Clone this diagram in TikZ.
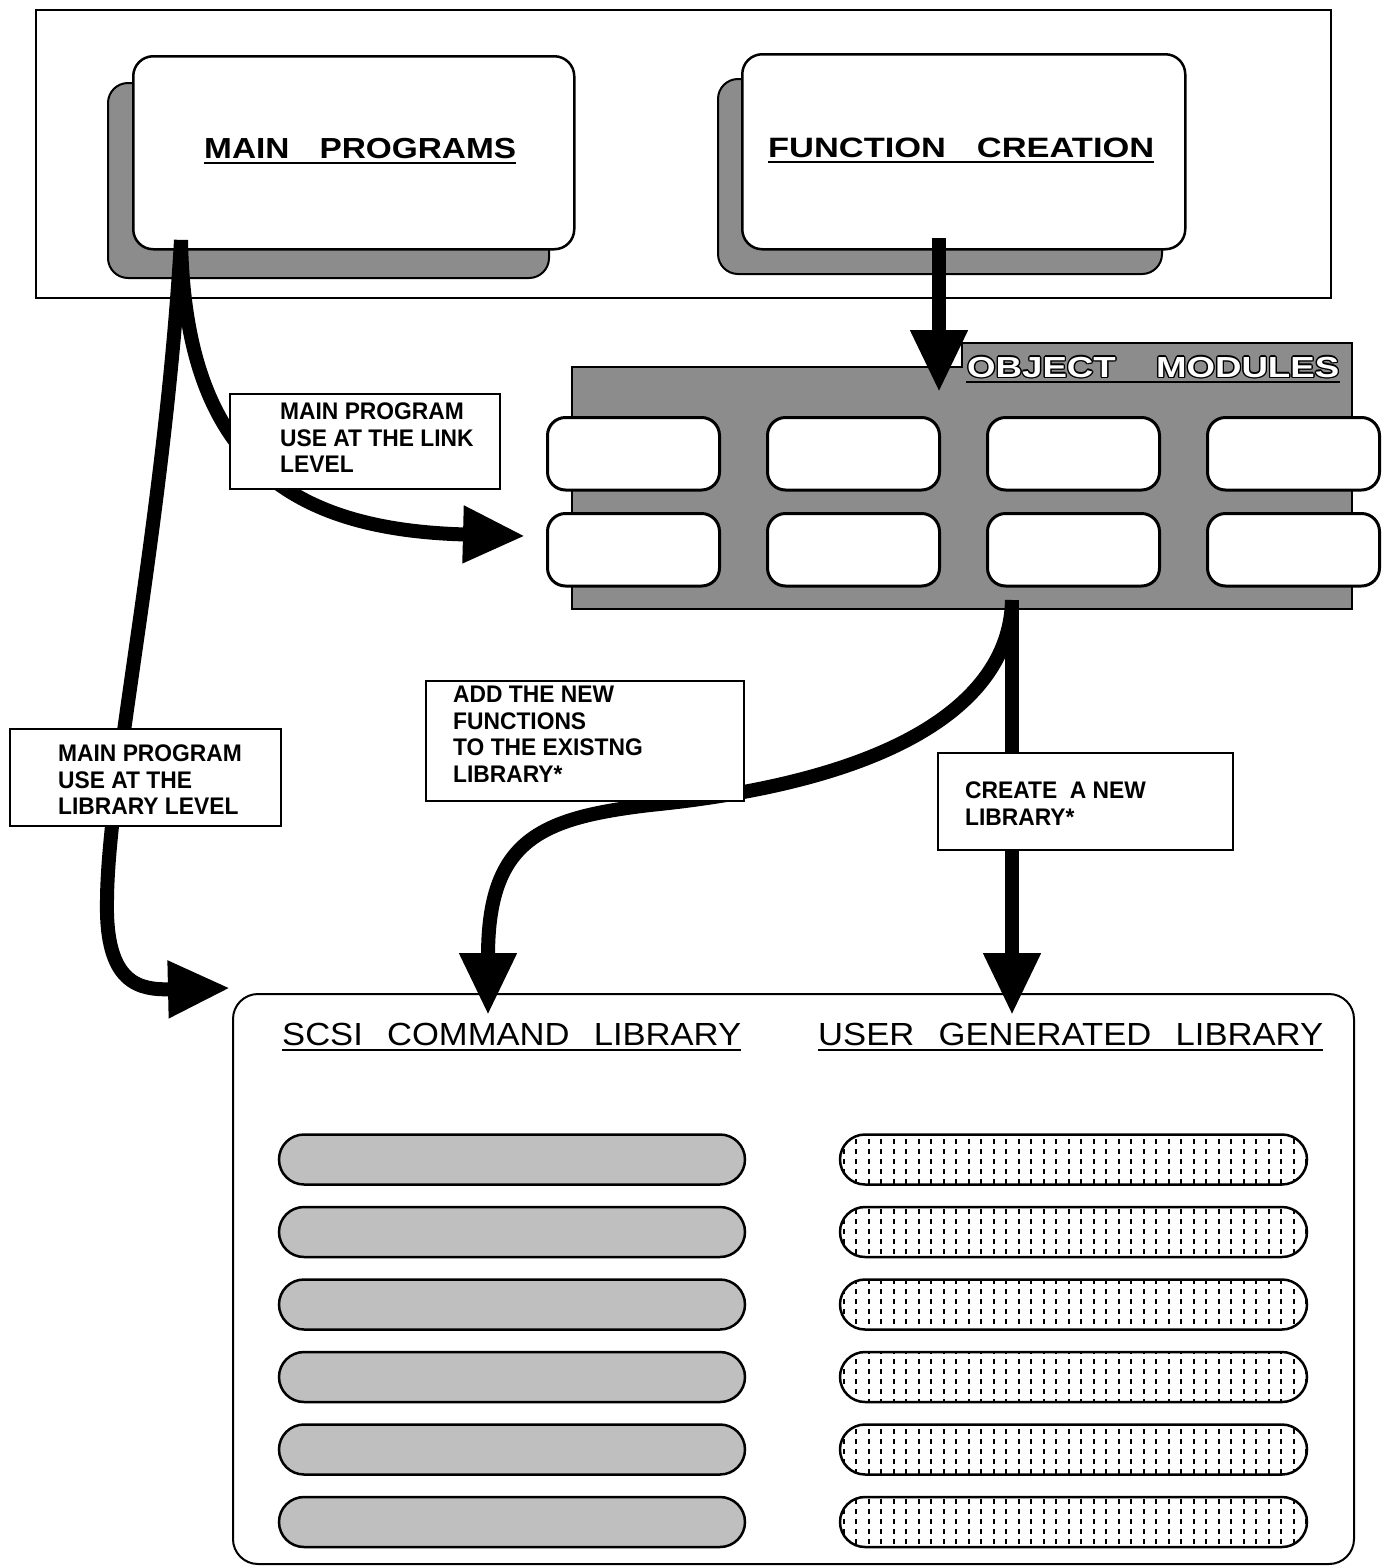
\documentclass[tikz,border=0pt]{standalone}
\usepackage{fontspec}
\usepackage{graphicx}
\setmainfont{Liberation Sans}
\newfontfamily\hfont{Liberation Sans}
\newfontfamily\lblfont[FakeStretch=0.95]{Liberation Sans}
\usetikzlibrary{arrows.meta,patterns}
\pgfdeclarepatternformonly{udots}{\pgfqpoint{-1pt}{-1pt}}{\pgfqpoint{13.5pt}{11pt}}{\pgfqpoint{12.5pt}{10pt}}{%
  \pgfpathrectangle{\pgfqpoint{5pt}{2pt}}{\pgfqpoint{2.2pt}{5pt}}\pgfusepath{fill}}
\newcommand{\hdr}[6]{% name, x, baseline, width, font, text
  \node[anchor=base west, inner sep=0] (#1) at (#2,#3) {\resizebox{#4pt}{\height}{\hfont#5#6}};
  \draw[line width=1.8pt] ([yshift=-5pt]#1.base west) -- ([yshift=-5pt]#1.base east);}
\begin{document}
\begin{tikzpicture}[x=1pt,y=-1pt,
  frame/.style={draw, line width=1.5pt, inner sep=0, anchor=north west},
  shadowbox/.style={draw, line width=2pt, fill=black!45, rounded corners=20pt, inner sep=0, anchor=north west},
  mainbox/.style={draw, line width=2.5pt, fill=white, rounded corners=20pt, inner sep=0, anchor=north west},
  modbox/.style={draw, line width=3pt, fill=white, rounded corners=18pt, minimum width=172pt, minimum height=72.5pt, inner sep=0, anchor=north west},
  lblbox/.style={draw, line width=1.6pt, fill=white, inner sep=0, anchor=north west},
  lbltext/.style={anchor=north west, inner sep=0, align=left, font=\lblfont\bfseries\fontsize{24}{26.5}\selectfont},
  bigarrow/.style={line width=14pt, -{Triangle[length=62pt,width=54pt]}},
  scsibar/.style={draw, line width=2.5pt, fill=black!25, rounded corners=25pt, minimum width=466pt, minimum height=50pt, inner sep=0},
  userbar/.style={draw, line width=2.5pt, preaction={fill=white}, pattern=udots, rounded corners=25pt, minimum width=467pt, minimum height=50pt, inner sep=0}]
\useasboundingbox (0,0) rectangle (1384,1566);
\fill[white] (0,0) rectangle (1384,1566);

% top frame with the two program boxes
\node[frame, minimum width=1295pt, minimum height=288pt] (top) at (35,9) {};
\node[shadowbox, minimum width=441pt, minimum height=195pt] (mpsh) at (107,82) {};
\node[mainbox, minimum width=441pt, minimum height=193pt] (mp) at (132,55) {};
\node[shadowbox, minimum width=444pt, minimum height=195pt] (fcsh) at (717,78) {};
\node[mainbox, minimum width=443pt, minimum height=195pt] (fc) at (741,53) {};
\hdr{mpt}{204}{158}{312}{\bfseries\fontsize{29}{29}\selectfont}{MAIN\hspace{0.9em}PROGRAMS}
\hdr{fct}{768}{157}{386}{\bfseries\fontsize{28}{28}\selectfont}{FUNCTION\hspace{0.9em}CREATION}

% object modules block
\draw[line width=2pt, fill=black!45] (572,367) -- (962,367) -- (962,343) -- (1352,343) -- (1352,609) -- (572,609) -- cycle;
\foreach \c [count=\i] in {546,766,986,1206} {
  \node[modbox] (ma\i) at (\c,416) {};
  \node[modbox] (mb\i) at (\c,512) {};
}
\foreach \dx/\dy in {-1.4/0,1.4/0,0/-1.4,0/1.4,-1/-1,1/1,-1/1,1/-1} {
  \node[anchor=base west, inner sep=0, text=black, xshift=\dx pt, yshift=\dy pt] at (967,377) {\resizebox{372pt}{\height}{\hfont\bfseries\fontsize{29}{29}\selectfont OBJECT\hspace{1.1em}MODULES}};
}
\node[anchor=base west, inner sep=0, text=white] (omt) at (967,377) {\resizebox{372pt}{\height}{\hfont\bfseries\fontsize{29}{29}\selectfont OBJECT\hspace{1.1em}MODULES}};
\draw[line width=2pt] (966,382) -- (1340,382);

% library box
\node[draw, line width=2pt, fill=white, rounded corners=25pt, minimum width=1121pt, minimum height=570pt, inner sep=0, anchor=north west] (lib) at (232,993) {};
\hdr{scsit}{282}{1045}{459}{\fontsize{32}{32}\selectfont}{SCSI\hspace{0.7em}COMMAND\hspace{0.7em}LIBRARY}
\hdr{usert}{818}{1045}{505}{\fontsize{32}{32}\selectfont}{USER\hspace{0.7em}GENERATED\hspace{0.7em}LIBRARY}
\foreach \k in {0,...,5} {
  \node[scsibar] (s\k) at (512,{1159.5+72.5*\k}) {};
  \node[userbar] (u\k) at (1073.5,{1159.5+72.5*\k}) {};
}

% connectors
\coordinate (mpout) at (181,240);
\coordinate (fcout) at (939,238);
\coordinate (omout) at (1012,600);
\coordinate (lnktip) at (525,536);
\coordinate (omtip) at (939,392);
\coordinate (libtip) at (230,988);
\coordinate (scsitip) at (488,1015);
\coordinate (usertip) at (1012,1015);
\draw[bigarrow] (fcout) -- (omtip);
\draw[bigarrow] (mpout) .. controls (185,460) and (290,530) .. (lnktip);
\draw[bigarrow] (mpout) .. controls (165,520) and (108,780) .. (107,900) .. controls (105,985) and (140,990) .. (libtip);
\draw[bigarrow] (omout) -- (usertip);
\draw[bigarrow] (omout) .. controls (1010,700) and (900,780) .. (650,805) .. controls (540,818) and (488,840) .. (scsitip);

% label boxes
\node[lblbox, minimum width=270pt, minimum height=95pt] (l1) at (229,393) {};
\node[lbltext] (l1t) at (280,403) {MAIN PROGRAM\\USE AT THE LINK\\LEVEL};
\node[lblbox, minimum width=271pt, minimum height=97pt] (l2) at (9,728) {};
\node[lbltext] (l2t) at (58,745) {MAIN PROGRAM\\USE AT THE\\LIBRARY LEVEL};
\node[lblbox, minimum width=318pt, minimum height=120pt] (l3) at (425,680) {};
\node[lbltext] (l3t) at (453,686) {ADD THE NEW\\FUNCTIONS\\TO THE EXISTNG\\LIBRARY*};
\node[lblbox, minimum width=295pt, minimum height=97pt] (l4) at (937,752) {};
\node[lbltext] (l4t) at (965,782) {CREATE\ \ A NEW\\LIBRARY*};
\end{tikzpicture}
\end{document}
